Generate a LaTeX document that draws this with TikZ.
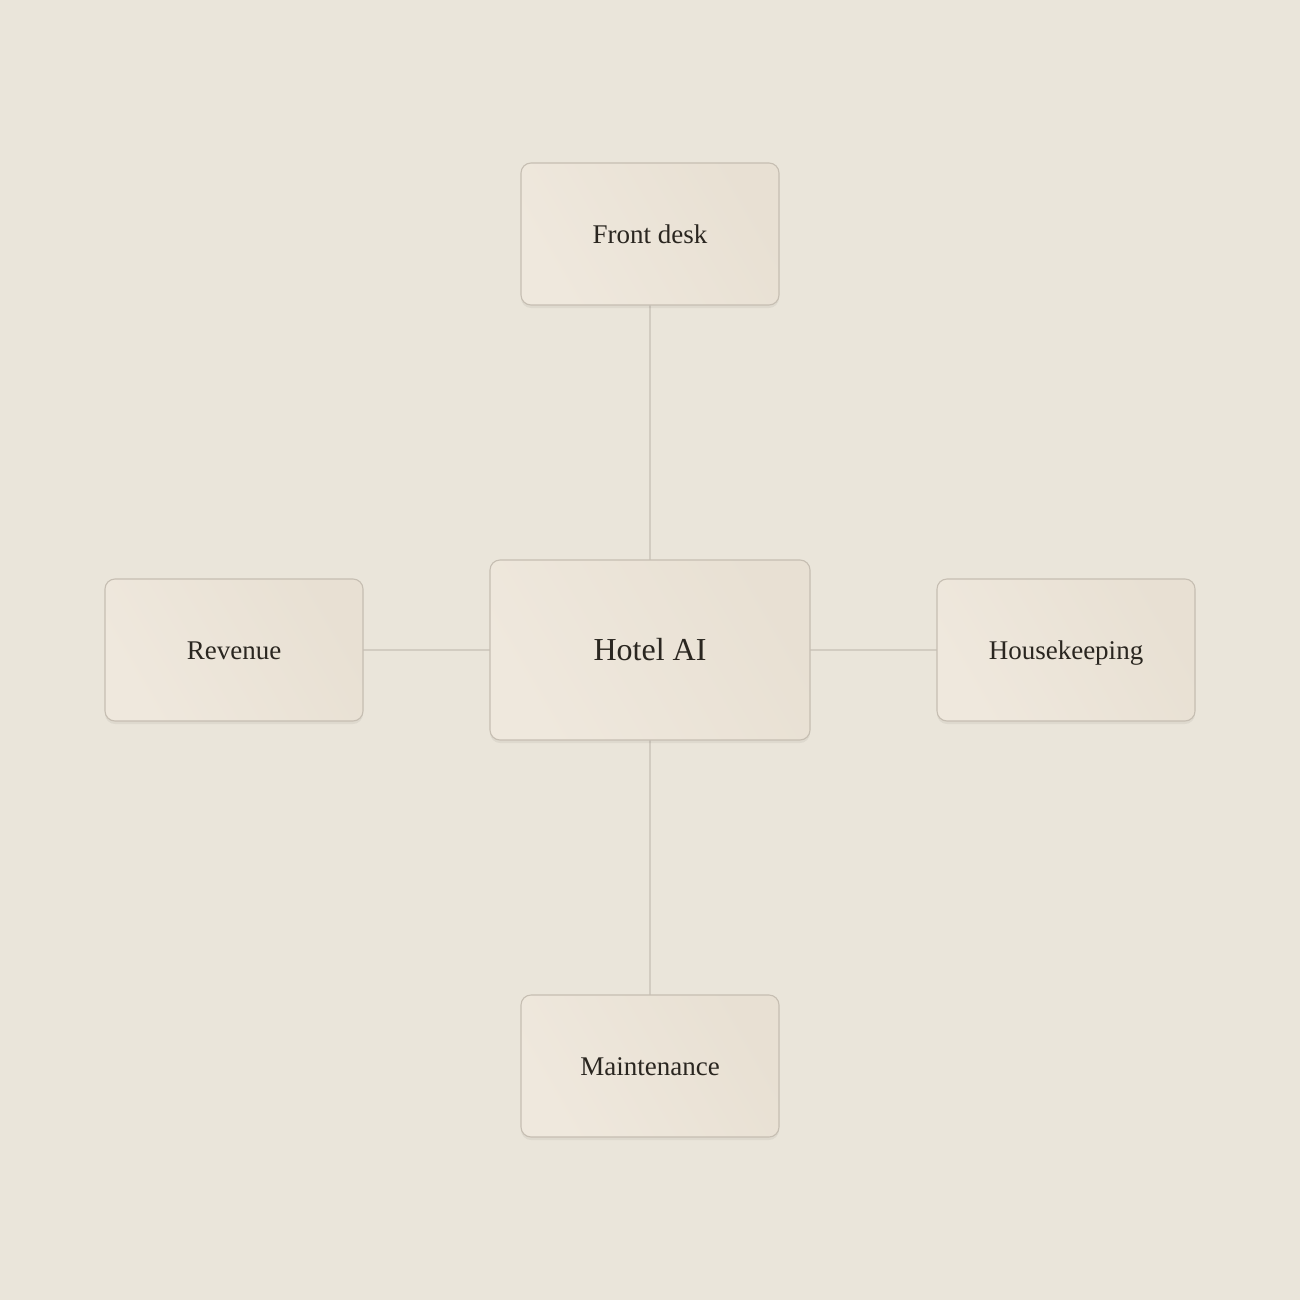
\documentclass[tikz,border=0pt]{standalone}
\usepackage{fontspec}
\setmainfont{Liberation Serif}
\usetikzlibrary{shadows}
\definecolor{bg}{HTML}{EAE5DA}
\definecolor{boxA}{HTML}{EFE8DD}
\definecolor{boxB}{HTML}{E8E0D3}
\definecolor{edge}{HTML}{C6BEB2}
\definecolor{wire}{HTML}{D2CCC1}
\definecolor{ink}{HTML}{2A2620}
\begin{document}
\begin{tikzpicture}[x=1pt,y=-1pt,
  card/.style={draw=edge, line width=1.1pt, rounded corners=10pt,
    left color=boxB, right color=boxA, shading angle=-60,
    drop shadow={shadow xshift=0pt, shadow yshift=-3pt, opacity=0.05, fill=black},
    minimum width=258pt, minimum height=142pt, inner sep=0pt,
    text height=18pt, text depth=0pt,
    font=\fontsize{27}{30}\selectfont, text=ink},
  hub/.style={card, minimum width=320pt, minimum height=180pt, text height=21pt,
    font=\fontsize{32}{36}\selectfont},
  wireline/.style={draw=wire, line width=1.2pt}]
\fill[bg] (0,0) rectangle (1300,1300);
\useasboundingbox (0,0) rectangle (1300,1300);
\draw[wireline] (650,305) -- (650,560);
\draw[wireline] (650,740) -- (650,995);
\draw[wireline] (363,650) -- (490,650);
\draw[wireline] (810,650) -- (937,650);
\node[hub] (hub) at (650,650) {Hotel AI};
\node[card] (front) at (650,234) {Front desk};
\node[card] (rev) at (234,650) {Revenue};
\node[card] (house) at (1066,650) {Housekeeping};
\node[card] (maint) at (650,1066) {Maintenance};
\end{tikzpicture}
\end{document}
